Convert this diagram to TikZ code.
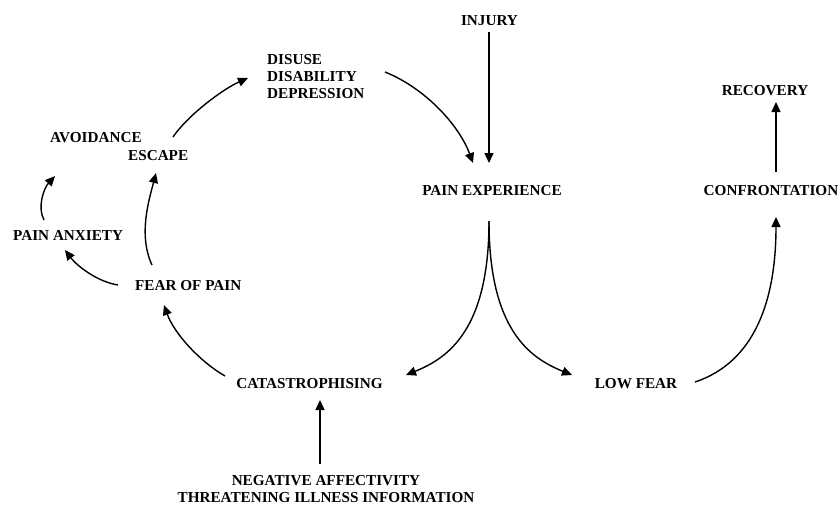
\documentclass[tikz,border=0pt]{standalone}
\usepackage{fontspec}
\setmainfont{Liberation Serif}
\usetikzlibrary{arrows.meta}
\begin{document}
\begin{tikzpicture}[x=1pt,y=-1pt,
  lbl/.style={inner sep=0pt, font=\bfseries\fontsize{15.2}{17}\selectfont},
  arr/.style={line width=1.4pt, -{Triangle[length=10pt,width=9pt]}}]
\useasboundingbox (0,0) rectangle (840,504);
% nodes
\node[lbl, anchor=base] (inj) at (489.5,25) {INJURY};
\node[lbl, anchor=base] (pe) at (492,195) {PAIN EXPERIENCE};
\node[lbl, anchor=base] (rec) at (765,95) {RECOVERY};
\node[lbl, anchor=base] (conf) at (771,195) {CONFRONTATION};
\node[lbl, anchor=base] (lowf) at (636,388) {LOW FEAR};
\node[lbl, anchor=base] (cat) at (309.5,388) {CATASTROPHISING};
\node[lbl, anchor=north, align=center] (neg) at (326,475) {NEGATIVE AFFECTIVITY\\THREATENING ILLNESS INFORMATION};
\node[lbl, anchor=north west, align=left] (dis) at (267,54) {DISUSE\\DISABILITY\\DEPRESSION};
\node[lbl, anchor=base west] (avo) at (50,142) {AVOIDANCE};
\node[lbl, anchor=base west] (esc) at (128,160) {ESCAPE};
\node[lbl, anchor=base west] (panx) at (13,240) {PAIN ANXIETY};
\node[lbl, anchor=base west] (fop) at (135,290) {FEAR OF PAIN};
% connectors
\draw[arr] ([shift={(-0.5,7)}]inj.base) -- ([shift={(-3,-32)}]pe.base);
\draw[arr] ([shift={(118,18)}]dis.north west) .. controls +(40,16) and +(-14,-38) .. ([shift={(-19,-32)}]pe.base);
\draw[arr] ([shift={(-3,26)}]pe.base) .. controls +(0,109) and +(42,-17) .. ([shift={(96.5,-13)}]cat.base);
\draw[arr] ([shift={(-3,26)}]pe.base) .. controls +(0,109) and +(-42,-17) .. ([shift={(-64,-13)}]lowf.base);
\draw[arr] ([shift={(-84.5,-12)}]cat.base) .. controls +(-26,-15) and +(10,28) .. ([shift={(29,15)}]fop.base west);
\draw[arr] ([shift={(-17,-5)}]fop.base west) .. controls +(-20,-3) and +(12,16) .. ([shift={(52,10)}]panx.base west);
\draw[arr] ([shift={(31,-20)}]panx.base west) .. controls +(-7,-13) and +(-11,12) .. ([shift={(5,34)}]avo.base west);
\draw[arr] ([shift={(17,-25)}]fop.base west) .. controls +(-14,-30) and +(-7,27) .. ([shift={(28,13)}]esc.base west);
\draw[arr] ([shift={(45,-23)}]esc.base west) .. controls +(15,-22) and +(-25,11) .. ([shift={(-19,24)}]dis.north west);
\draw[arr] ([shift={(59,-6)}]lowf.base) .. controls +(60,-20) and +(0,83) .. ([shift={(5,22)}]conf.base);
\draw[arr] ([shift={(5,-23)}]conf.base) -- ([shift={(11,7)}]rec.base);
\draw[arr] ([shift={(-6,-11)}]neg.north) -- ([shift={(10.5,12)}]cat.base);
\end{tikzpicture}
\end{document}
